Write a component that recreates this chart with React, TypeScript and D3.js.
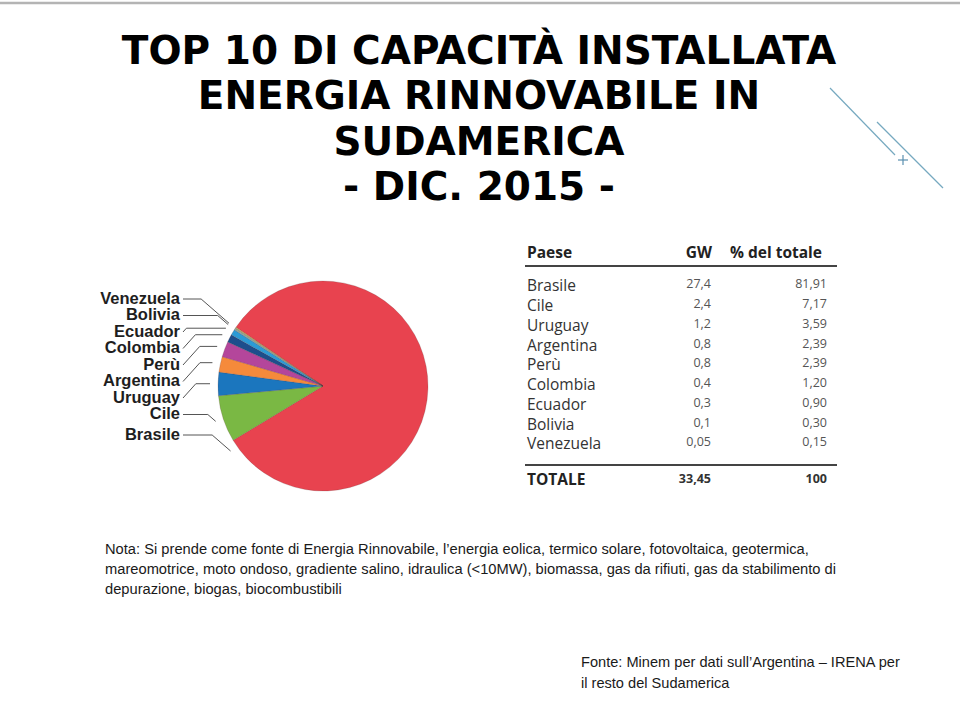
import { useEffect, useRef } from "react";
import * as d3 from "d3";

// ── Data ──────────────────────────────────────────────────────────────────
const countries = ["Brasile", "Cile", "Uruguay", "Argentina", "Perù", "Colombia", "Ecuador", "Bolivia", "Venezuela"];
const gwValues = [27.4, 2.4, 1.2, 0.8, 0.8, 0.4, 0.3, 0.1, 0.05];
const pctValues = [81.91, 7.17, 3.59, 2.39, 2.39, 1.2, 0.9, 0.3, 0.15];
const sliceColors = ["#e8434f", "#7ab844", "#1b76be", "#f58a3b", "#b4469b", "#1d4e8c", "#2b9bd6", "#8fa9a1", "#c8b45a"];
const totalGw = "33,45";
const totalPct = "100";

const titleLines = ["TOP 10 DI CAPACITÀ INSTALLATA", "ENERGIA RINNOVABILE IN", "SUDAMERICA", "- DIC. 2015 -"];
const tableHeaders = ["Paese", "GW", "% del totale"];
const noteLines = [
  "Nota: Si prende come fonte di Energia Rinnovabile, l’energia eolica, termico solare, fotovoltaica, geotermica,",
  "mareomotrice, moto ondoso, gradiente salino, idraulica (<10MW), biomassa, gas da rifiuti, gas da stabilimento di",
  "depurazione, biogas, biocombustibili",
];
const sourceLines = ["Fonte: Minem per dati sull’Argentina – IRENA per", "il resto del Sudamerica"];

const comma = (v: number, digits?: number) =>
  (digits === undefined ? String(v) : v.toFixed(digits)).replace(".", ",");

export default function App() {
  const svgRef = useRef<SVGSVGElement>(null);

  useEffect(() => {
    if (!svgRef.current) return;
    const width = 960;
    const height = 720;
    const svg = d3.select(svgRef.current);
    svg.attr("width", width).attr("height", height).attr("viewBox", `0 0 ${width} ${height}`);
    svg.selectAll("*").remove();

    svg.append("rect").attr("width", width).attr("height", height).attr("fill", "#ffffff");

    // ── Slide decoration ─────────────────────────────────────────────────
    svg.append("line").attr("x1", 0).attr("x2", width).attr("y1", 3).attr("y2", 3)
      .attr("stroke", "#b4b4b4").attr("stroke-width", 2.5);
    const deco = svg.append("g").attr("stroke", "#76a9c0").attr("stroke-width", 1.2);
    deco.append("line").attr("x1", 830).attr("y1", 88).attr("x2", 895).attr("y2", 155);
    deco.append("line").attr("x1", 877).attr("y1", 122).attr("x2", 943).attr("y2", 188);
    deco.append("line").attr("x1", 898).attr("y1", 160).attr("x2", 908).attr("y2", 160).attr("stroke", "#5a8fb0");
    deco.append("line").attr("x1", 903).attr("y1", 155).attr("x2", 903).attr("y2", 165).attr("stroke", "#5a8fb0");

    // ── Title ────────────────────────────────────────────────────────────
    svg.append("g")
      .selectAll("text")
      .data(titleLines)
      .enter()
      .append("text")
      .attr("x", 479)
      .attr("y", (_, i) => 64 + i * 45.3)
      .attr("text-anchor", "middle")
      .attr("font-family", "DejaVu Sans, Verdana, sans-serif")
      .attr("font-weight", 700)
      .attr("font-size", 39)
      .attr("fill", "#000")
      .text((d) => d);

    // ── Pie ──────────────────────────────────────────────────────────────
    const cx = 323;
    const cy = 386;
    const r = 105;
    const pieData = countries.map((c, i) => ({ name: c, value: pctValues[i], color: sliceColors[i] }));
    const startA = (-56 * Math.PI) / 180;
    const arcs = d3
      .pie<{ name: string; value: number; color: string }>()
      .sort(null)
      .value((d) => d.value)
      .startAngle(startA)
      .endAngle(startA + 2 * Math.PI)(pieData);
    const arc = d3.arc<d3.PieArcDatum<{ name: string; value: number; color: string }>>().innerRadius(0).outerRadius(r);

    const pieG = svg.append("g").attr("transform", `translate(${cx},${cy})`);
    pieG.selectAll("path")
      .data(arcs)
      .enter()
      .append("path")
      .attr("d", arc)
      .attr("fill", (d) => d.data.color)
      .attr("stroke", "rgba(90,60,60,0.35)")
      .attr("stroke-width", 0.6);

    // ── Pie labels + leader lines ────────────────────────────────────────
    const labelOrder = [...countries].reverse();
    const labelY = d3.scalePoint<string>().domain(labelOrder).range([298, 430]);
    const labelRight = 180;
    const labelFont = "Liberation Sans, Arial, sans-serif";

    const labelG = svg.append("g");
    arcs.forEach((a) => {
      const name = a.data.name;
      const ly = (labelY(name) as number) + (name === "Brasile" ? 4 : 0);
      labelG.append("text")
        .attr("x", labelRight)
        .attr("y", ly)
        .attr("dy", "0.35em")
        .attr("text-anchor", "end")
        .attr("font-family", labelFont)
        .attr("font-weight", 700)
        .attr("font-size", 16.5)
        .attr("fill", "#1e1e1e")
        .text(name);

      // point just outside the slice edge
      const ang = name === "Brasile" ? a.endAngle - (4 * Math.PI) / 180 : (a.startAngle + a.endAngle) / 2;
      const ex = cx + Math.sin(ang) * (r + 8);
      const ey = cy - Math.cos(ang) * (r + 8);
      const ax = labelRight + 3;
      const ay = ly + 1;
      let pts: [number, number][];
      if (ay <= ey) {
        pts = [[ax, ay], [ex - (ey - ay) * 1.15, ay], [ex, ey]];
      } else {
        pts = [[ax, ay], [ax + (ay - ey) * 0.9, ey], [ex, ey]];
      }
      labelG.append("path")
        .attr("d", d3.line()(pts))
        .attr("fill", "none")
        .attr("stroke", "#555")
        .attr("stroke-width", 1);
    });

    // ── Table ────────────────────────────────────────────────────────────
    const tLeft = 527;
    const tRight = 837;
    const gwRight = 711;
    const pctRight = 827;
    const rowY = d3.scalePoint<string>().domain(countries).range([286, 444]);
    const tableFont = "Open Sans, Noto Sans, sans-serif";
    const tbl = svg.append("g").attr("font-family", tableFont);

    const headerY = 253;
    tbl.append("text").attr("x", tLeft).attr("y", headerY).attr("dy", "0.35em")
      .attr("font-weight", 700).attr("font-size", 15.5).attr("fill", "#222").text(tableHeaders[0]);
    tbl.append("text").attr("x", gwRight + 1).attr("y", headerY).attr("dy", "0.35em").attr("text-anchor", "end")
      .attr("font-weight", 700).attr("font-size", 15.5).attr("fill", "#222").text(tableHeaders[1]);
    tbl.append("text").attr("x", pctRight - 5).attr("y", headerY).attr("dy", "0.35em").attr("text-anchor", "end")
      .attr("font-weight", 700).attr("font-size", 15.5).attr("fill", "#222").text(tableHeaders[2]);
    tbl.append("line").attr("x1", tLeft - 2).attr("x2", tRight).attr("y1", 266).attr("y2", 266)
      .attr("stroke", "#444").attr("stroke-width", 1.8);

    const rows = tbl.selectAll("g.row").data(countries).enter().append("g").attr("class", "row");
    rows.append("text").attr("x", tLeft).attr("y", (d) => rowY(d) as number).attr("dy", "0.35em")
      .attr("font-size", 15.5).attr("fill", "#333").text((d) => d);
    rows.append("text").attr("x", gwRight).attr("y", (d) => (rowY(d) as number) - 2).attr("dy", "0.35em")
      .attr("text-anchor", "end").attr("font-size", 12.5).attr("fill", "#555")
      .text((_, i) => comma(gwValues[i]));
    rows.append("text").attr("x", pctRight).attr("y", (d) => (rowY(d) as number) - 2).attr("dy", "0.35em")
      .attr("text-anchor", "end").attr("font-size", 12.5).attr("fill", "#555")
      .text((_, i) => comma(pctValues[i], 2));

    tbl.append("line").attr("x1", tLeft - 2).attr("x2", tRight).attr("y1", 465).attr("y2", 465)
      .attr("stroke", "#444").attr("stroke-width", 1.8);
    tbl.append("text").attr("x", tLeft).attr("y", 480).attr("dy", "0.35em")
      .attr("font-weight", 700).attr("font-size", 15.5).attr("fill", "#222").text("TOTALE");
    tbl.append("text").attr("x", gwRight).attr("y", 479).attr("dy", "0.35em").attr("text-anchor", "end")
      .attr("font-weight", 700).attr("font-size", 12.5).attr("fill", "#333").text(totalGw);
    tbl.append("text").attr("x", pctRight).attr("y", 479).attr("dy", "0.35em").attr("text-anchor", "end")
      .attr("font-weight", 700).attr("font-size", 12.5).attr("fill", "#333").text(totalPct);

    // ── Notes ────────────────────────────────────────────────────────────
    const noteFont = "Liberation Sans, Arial, sans-serif";
    svg.append("g").selectAll("text").data(noteLines).enter().append("text")
      .attr("x", 105).attr("y", (_, i) => 549 + i * 20).attr("dy", "0.35em")
      .attr("font-family", noteFont).attr("font-size", 14.7).attr("fill", "#1a1a1a")
      .text((d) => d);

    svg.append("g").selectAll("text").data(sourceLines).enter().append("text")
      .attr("x", 581).attr("y", (_, i) => 662 + i * 21).attr("dy", "0.35em")
      .attr("font-family", noteFont).attr("font-size", 14.6).attr("fill", "#1a1a1a")
      .text((d) => d);
  }, []);

  return (
    <div style={{ position: "absolute", left: 0, top: 0 }}>
      <svg ref={svgRef} style={{ display: "block" }} />
    </div>
  );
}
